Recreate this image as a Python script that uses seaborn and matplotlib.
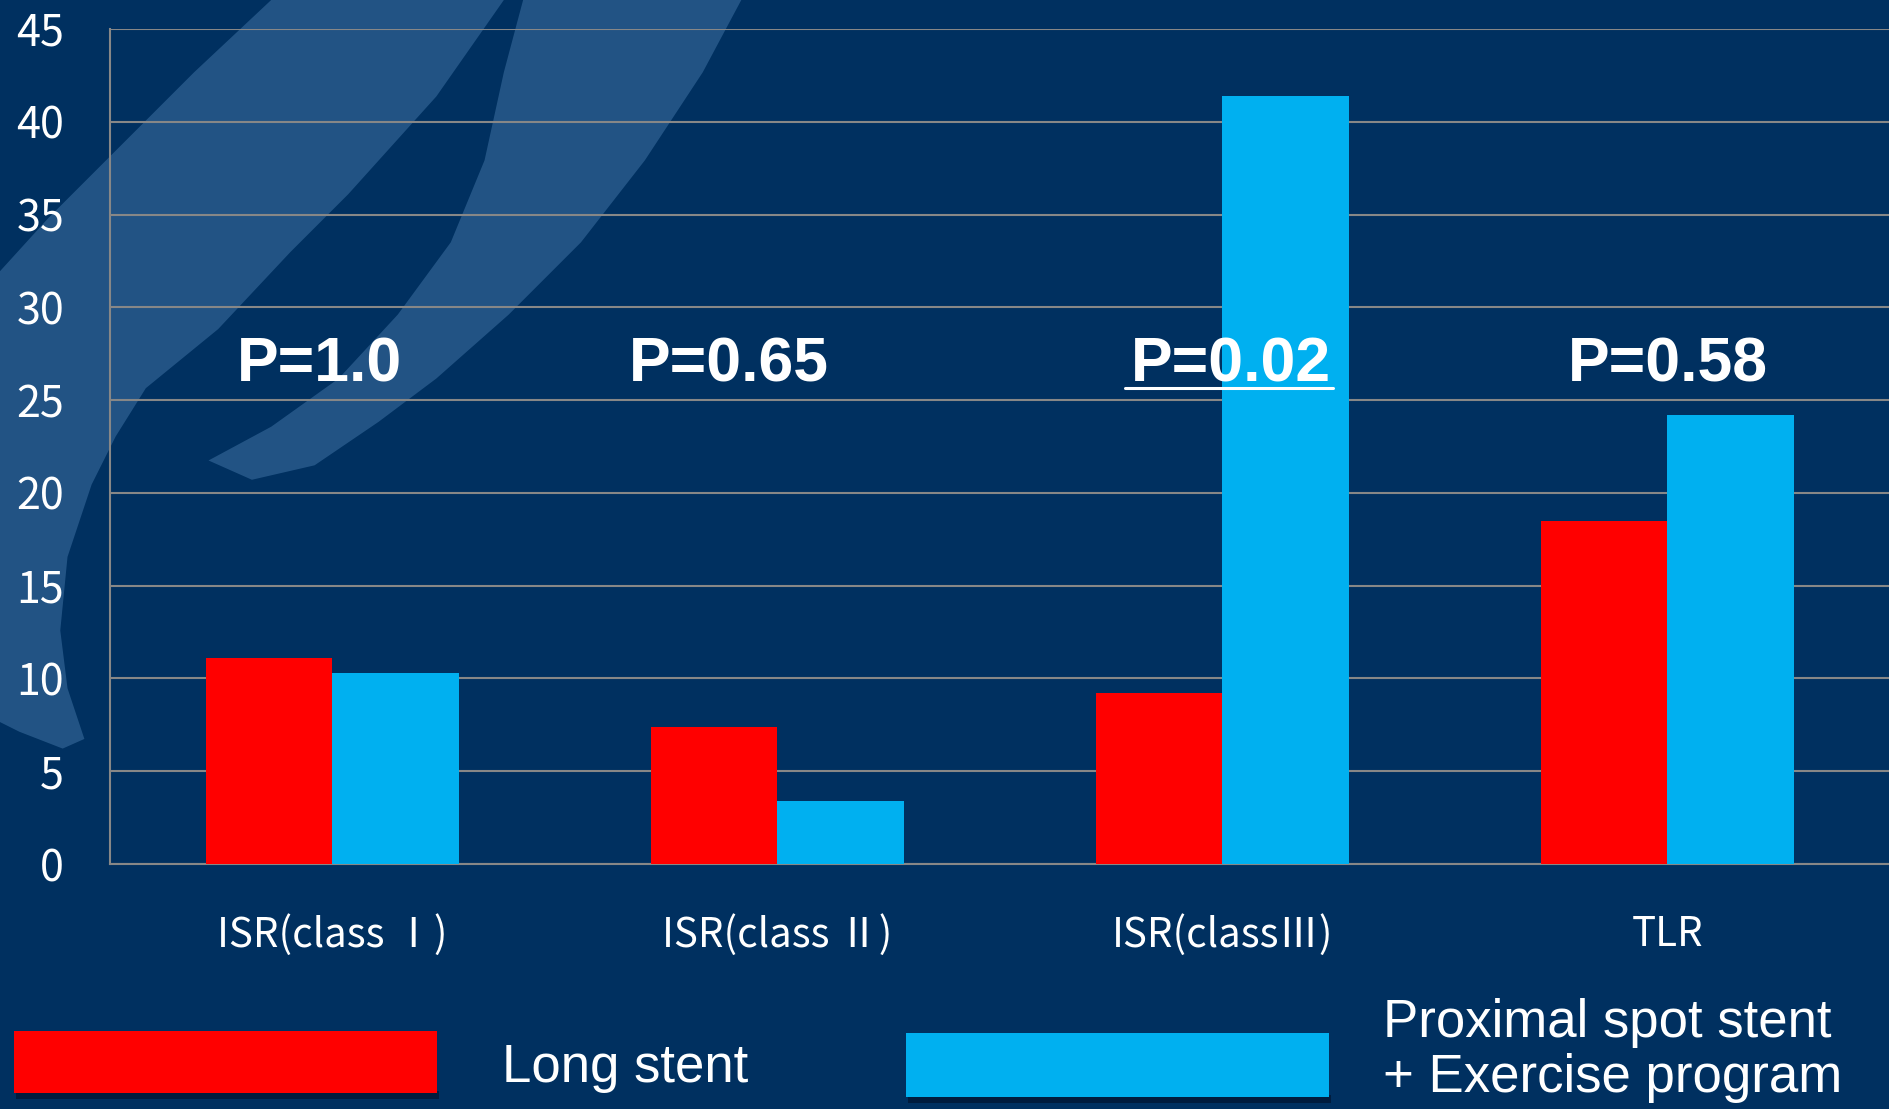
import matplotlib
matplotlib.use("Agg")
import matplotlib.pyplot as plt
import seaborn as sns
import pandas as pd
import numpy as np
from matplotlib.patches import Polygon, Rectangle
from matplotlib.lines import Line2D

# data
categories = ["ISR(class Ⅰ)", "ISR(class Ⅱ)", "ISR(classⅢ)", "TLR"]
long_stent = [11.1, 7.4, 9.2, 18.5]
spot_stent = [10.3, 3.4, 41.4, 24.2]
groups = ["Long stent", "Proximal spot stent\n+ Exercise program"]
p_values = ["P=1.0", "P=0.65", "P=0.02", "P=0.58"]
p_offsets = [-0.03, -0.11, 0.02, 0.0]
p_significant = [False, False, True, False]
p_y = 26

BG = "#003060"
RED = "#ff0000"
BLUE = "#00b0f0"
GRID = "#878787"

df = pd.DataFrame({
    "category": categories * 2,
    "value": long_stent + spot_stent,
    "group": [groups[0]] * 4 + [groups[1]] * 4,
})

sns.set_style("white")
fig = plt.figure(figsize=(18.9, 11.09), dpi=100, facecolor=BG)

# brush strokes of the slide background (rough outline, 1568x920 frame)
stroke1 = [(225, 0), (418, 0), (362, 80), (289, 161), (241, 209), (181, 273), (121, 322),
           (96, 362), (76, 402), (56, 462), (50, 523), (56, 571), (70, 613), (52, 621),
           (16, 607), (0, 599), (0, 225), (40, 181), (100, 121), (161, 60)]
stroke2 = [(434, 0), (615, 0), (583, 60), (535, 133), (482, 201), (422, 261), (362, 314),
           (314, 350), (261, 386), (209, 398), (173, 382), (225, 354), (281, 314),
           (330, 261), (374, 201), (402, 133), (418, 60)]
for pts in (stroke1, stroke2):
    fig.add_artist(Polygon([(x / 1568, 1 - y / 920) for x, y in pts], closed=True,
                           transform=fig.transFigure, facecolor="#2b5d8e", alpha=0.8,
                           edgecolor="none", zorder=0))

ax = fig.add_axes([110 / 1890, 1 - 864 / 1109, 1780 / 1890, 835 / 1109])
ax.set_facecolor("none")

sns.barplot(data=df, x="category", y="value", hue="group", palette=[RED, BLUE],
            width=0.57, saturation=1, legend=False, ax=ax, zorder=3)
for bar in ax.patches:
    bar.set_edgecolor("none")

ax.set_xlim(-0.5, 3.5)
ax.set_ylim(0, 45)
ax.set_yticks(np.arange(0, 46, 5))
ax.yaxis.grid(True, color=GRID, linewidth=1.5, zorder=0)
ax.set_axisbelow(True)
ax.set_xlabel("")
ax.set_ylabel("")
for side in ["top", "right"]:
    ax.spines[side].set_visible(False)
for side in ["left", "bottom"]:
    ax.spines[side].set_color(GRID)
    ax.spines[side].set_linewidth(1.5)

ax.tick_params(axis="y", colors=GRID, length=11, width=1.5, pad=22,
               labelcolor="white", labelsize=31)
for lab in ax.get_yticklabels():
    lab.set_family(["Noto Sans CJK JP", "DejaVu Sans"])
ax.set_xticks(range(len(categories)))
ax.set_xticklabels(categories, family=["Noto Sans CJK JP", "DejaVu Sans"], fontsize=29,
                   color="white")
ax.tick_params(axis="x", which="major", length=0, pad=36)
ax.set_xticks(np.arange(-0.5, 4, 1), minor=True)
ax.tick_params(axis="x", which="minor", length=11, width=1.5, color=GRID)

texts = []
for i, (p, off) in enumerate(zip(p_values, p_offsets)):
    t = ax.text(i + off, p_y, p, ha="center", va="baseline", color="white",
                fontsize=45, fontweight="bold", family="Liberation Sans", zorder=5)
    texts.append(t)

# underline the significant p value
fig.canvas.draw()
renderer = fig.canvas.get_renderer()
inv = fig.transFigure.inverted()
for t, sig, i, off in zip(texts, p_significant, range(4), p_offsets):
    if not sig:
        continue
    bb = t.get_window_extent(renderer)
    base = ax.transData.transform((i + off, p_y))[1] - 6
    (x0, y0), (x1, _) = inv.transform([(bb.x0 - 6, base), (bb.x1 + 2, base)])
    fig.add_artist(Line2D([x0, x1], [y0, y0], color="white", linewidth=2.2,
                          transform=fig.transFigure, zorder=6))

# legend drawn as on the slide
def px(x, y):
    return x / 1890, 1 - y / 1109

for (x0, y0, x1, y1), col in [((14, 1031, 437, 1093), RED), ((906, 1033, 1329, 1097), BLUE)]:
    fig.add_artist(Rectangle(px(x0 + 2, y1 + 6), (x1 - x0) / 1890, 8 / 1109,
                             transform=fig.transFigure, facecolor="#001c3e",
                             edgecolor="none"))
    fig.add_artist(Rectangle(px(x0, y1), (x1 - x0) / 1890, (y1 - y0) / 1109,
                             transform=fig.transFigure, facecolor=col, edgecolor="none"))

fig.text(*px(502, 1082), groups[0], color="white", fontsize=38,
         family="Liberation Sans", va="baseline", ha="left")
for line, yb in zip(groups[1].split("\n"), [1037, 1092]):
    fig.text(*px(1383, yb), line, color="white", fontsize=38,
             family="Liberation Sans", va="baseline", ha="left")

fig.savefig("out.png", dpi=100, facecolor=BG)
